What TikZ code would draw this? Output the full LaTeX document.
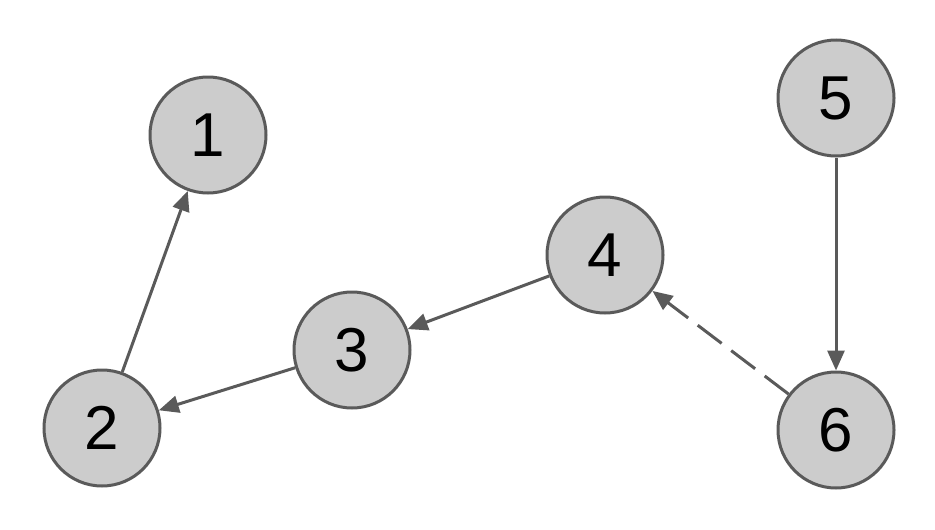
\documentclass[tikz,border=0pt]{standalone}
\usepackage{fontspec}
\setmainfont{Liberation Sans}
\usetikzlibrary{arrows.meta}
\definecolor{ln}{HTML}{5A5A5A}
\definecolor{fl}{HTML}{CCCCCC}
\begin{document}
\begin{tikzpicture}[x=1pt,y=-1pt,
  vert/.style={circle,draw=ln,fill=fl,line width=3pt,minimum size=116pt,inner sep=0pt,font=\fontsize{62}{62}\selectfont},
  edge/.style={draw=ln,line width=3pt,-{Triangle[length=20pt,width=17pt]}}]
\useasboundingbox (0,0) rectangle (935,530);
\node[vert] (n1) at (208,135) {1};
\node[vert] (n2) at (102,428) {2};
\node[vert] (n3) at (352,350) {3};
\node[vert] (n4) at (605,255) {4};
\node[vert] (n5) at (836,98) {5};
\node[vert] (n6) at (836,430) {6};
\draw[edge] (n2) -- (n1);
\draw[edge] (n3) -- (n2);
\draw[edge] (n4) -- (n3);
\draw[edge,dash pattern=on 30pt off 12pt] (n6) -- (n4);
\draw[edge] (n5) -- (n6);
\end{tikzpicture}
\end{document}
